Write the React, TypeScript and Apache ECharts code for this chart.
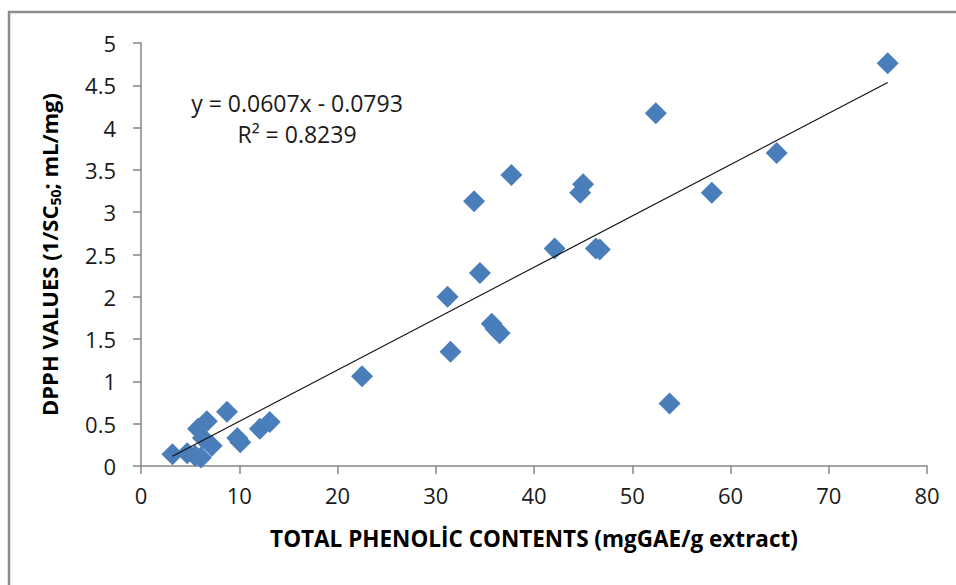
import React, { useEffect, useRef } from "react";
import * as echarts from "echarts";

const phenolic: number[] = [
  3.2, 4.7, 5.5, 5.8, 6.1, 6.3, 6.7, 7.2, 8.75, 9.8, 10.1, 12.1, 13.1,
  22.5, 31.2, 31.5, 33.9, 34.5, 35.7, 36.1, 36.5, 37.7, 42.1, 44.7, 45.0,
  46.3, 46.7, 52.4, 53.8, 58.1, 64.7, 76.0,
];
const dpph: number[] = [
  0.14, 0.15, 0.12, 0.44, 0.1, 0.33, 0.53, 0.24, 0.64, 0.33, 0.28, 0.44, 0.52,
  1.06, 2.0, 1.35, 3.13, 2.28, 1.68, 1.62, 1.57, 3.44, 2.57, 3.23, 3.33,
  2.57, 2.56, 4.17, 0.74, 3.23, 3.7, 4.76,
];
const slope = 0.0607;
const intercept = -0.0793;
const rSquared = "0.8239";
const xTicks = [0, 10, 20, 30, 40, 50, 60, 70, 80];
const yTicks = [0, 0.5, 1, 1.5, 2, 2.5, 3, 3.5, 4, 4.5, 5];

export default function App() {
  const ref = useRef<HTMLDivElement>(null);
  useEffect(() => {
    if (!ref.current) return;
    const chart = echarts.init(ref.current, null, { renderer: "svg" });
    const points = phenolic.map((x, i) => [x, dpph[i]]);
    const xMin = Math.min(...phenolic);
    const xMax = Math.max(...phenolic);
    const trend = [
      [xMin, slope * xMin + intercept],
      [xMax, slope * xMax + intercept],
    ];
    const font = "'Open Sans', Lato, sans-serif";
    const axisLine = { show: true, lineStyle: { color: "#868686", width: 1.5 } };
    chart.setOption({
      animation: false,
      backgroundColor: "#ffffff",
      textStyle: { fontFamily: font },
      grid: { left: 141, right: 29, top: 43, bottom: 119 },
      xAxis: {
        type: "value",
        min: xTicks[0],
        max: xTicks[xTicks.length - 1],
        interval: 10,
        axisLine,
        axisTick: { show: true, length: 8, lineStyle: { color: "#868686", width: 1.5 } },
        splitLine: { show: false },
        axisLabel: { color: "#1a1a1a", fontSize: 22, margin: 18, fontFamily: font },
        name: "TOTAL PHENOLİC CONTENTS (mgGAE/g extract)",
        nameLocation: "middle",
        nameGap: 61,
        nameTextStyle: { color: "#000", fontSize: 22.5, fontWeight: "bold", fontFamily: font },
      },
      yAxis: {
        type: "value",
        min: yTicks[0],
        max: yTicks[yTicks.length - 1],
        interval: 0.5,
        axisLine,
        axisTick: { show: true, length: 8, lineStyle: { color: "#868686", width: 1.5 } },
        splitLine: { show: false },
        axisLabel: { color: "#1a1a1a", fontSize: 22, margin: 25, fontFamily: font },
        name: "{m|DPPH VALUES (1/SC}{s|50}{m|; mL/mg)}",
        nameLocation: "middle",
        nameGap: 78,
        nameTextStyle: {
          color: "#000",
          fontSize: 22,
          fontWeight: "bold",
          fontFamily: font,
          rich: {
            m: { fontSize: 22, fontWeight: "bold", fontFamily: font, color: "#000", lineHeight: 28 },
            s: { fontSize: 14, fontWeight: "bold", fontFamily: font, color: "#000", padding: [13, 0, 0, 0], lineHeight: 28 },
          },
        },
      },
      graphic: [
        {
          type: "rect",
          shape: { x: 9, y: 12, width: 960, height: 590 },
          style: { fill: "none", stroke: "#8c8c8c", lineWidth: 2.5 },
          silent: true,
        },
        {
          type: "text",
          x: 297,
          y: 103,
          style: {
            text: `y = ${slope}x - ${Math.abs(intercept)}`,
            fontSize: 23,
            fontFamily: font,
            fill: "#1a1a1a",
            align: "center",
            verticalAlign: "middle",
          },
        },
        {
          type: "text",
          x: 297,
          y: 134,
          style: {
            text: `R² = ${rSquared}`,
            fontSize: 23,
            fontFamily: font,
            fill: "#1a1a1a",
            align: "center",
            verticalAlign: "middle",
          },
        },
      ],
      series: [
        {
          type: "scatter",
          data: points,
          symbol: "diamond",
          symbolSize: 22,
          itemStyle: { color: "#4a7ebb", opacity: 1 },
          z: 2,
        },
        {
          type: "line",
          data: trend,
          symbol: "none",
          lineStyle: { color: "#111", width: 1.2 },
          z: 3,
        },
      ],
    });
    return () => chart.dispose();
  }, []);
  return (
    <div
      ref={ref}
      style={{ position: "fixed", left: 0, top: 0, width: 956, height: 585 }}
    />
  );
}
